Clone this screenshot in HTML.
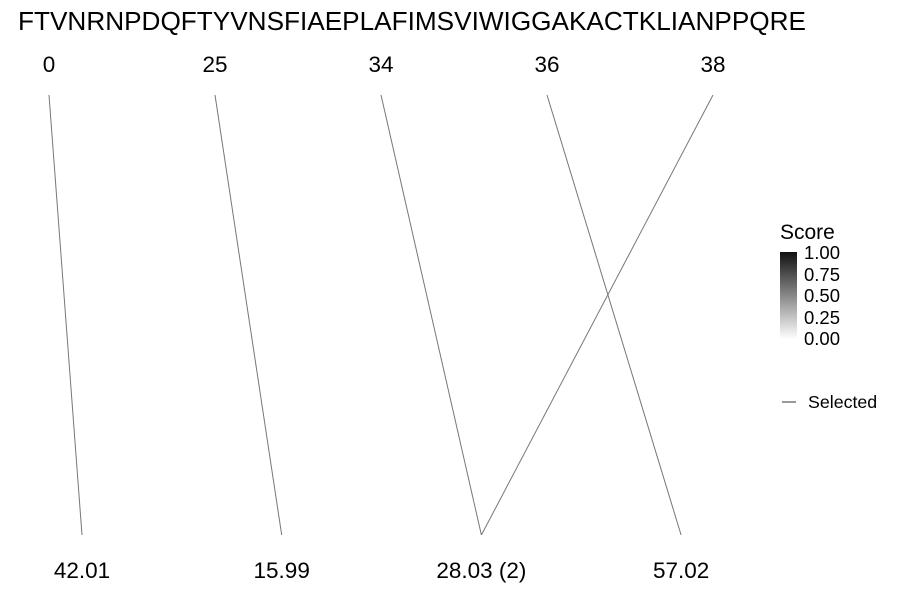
<!DOCTYPE html>
<html><head><meta charset="utf-8"><style>
body{margin:0;background:#fff;font-family:"Liberation Sans",sans-serif}
</style></head><body>
<svg id="c" width="900" height="600" xmlns="http://www.w3.org/2000/svg">
<defs><linearGradient id="g" x1="0" y1="1" x2="0" y2="0"><stop offset="0" stop-color="#fff"/><stop offset="1" stop-color="#111"/></linearGradient></defs>
<text x="18" y="30" font-size="26" textLength="788" lengthAdjust="spacingAndGlyphs" fill="#000">FTVNRNPDQFTYVNSFIAEPLAFIMSVIWIGGAKACTKLIANPPQRE</text>
<g>
<text x="780" y="239" font-size="21">Score</text>
<rect x="780" y="252" width="17" height="87" fill="url(#g)"/>
<g font-size="18.5">
<text x="804" y="259">1.00</text><text x="804" y="281">0.75</text><text x="804" y="302">0.50</text><text x="804" y="324">0.25</text><text x="804" y="345">0.00</text>
</g>
<line x1="782" y1="402" x2="796" y2="402" stroke="#333" stroke-width="1"/>
<text x="808" y="408" font-size="17.8">Selected</text>
</g>
<g id="plot"></g>
</svg>
<script>
const topLabels=["0","25","34","36","38"];
const bottomLabels=["42.01","15.99","28.03 (2)","57.02"];
const linkTop=[0,1,2,3,4];
const linkBottom=[0,1,2,3,2];
const ns="http://www.w3.org/2000/svg";
const g=document.getElementById("plot");
const xTop=i=>49+i*166, xBot=i=>82+i*199.7;
const yTop=95,yBot=535;
topLabels.forEach((t,i)=>{const e=document.createElementNS(ns,"text");


e.setAttribute("x",xTop(i));e.setAttribute("y",72);e.setAttribute("font-size","22.5");e.setAttribute("text-anchor","middle");e.textContent=t;g.appendChild(e);});
bottomLabels.forEach((t,i)=>{const e=document.createElementNS(ns,"text");


e.setAttribute("x",xBot(i));e.setAttribute("y",578);e.setAttribute("font-size","22.5");e.setAttribute("text-anchor","middle");e.textContent=t;g.appendChild(e);});
linkTop.forEach((a,k)=>{const l=document.createElementNS(ns,"line");


l.setAttribute("x1",xTop(a));l.setAttribute("y1",yTop);l.setAttribute("x2",xBot(linkBottom[k]));l.setAttribute("y2",yBot);l.setAttribute("stroke","#777");l.setAttribute("stroke-width","1");g.appendChild(l);});
</script>
</body></html>
